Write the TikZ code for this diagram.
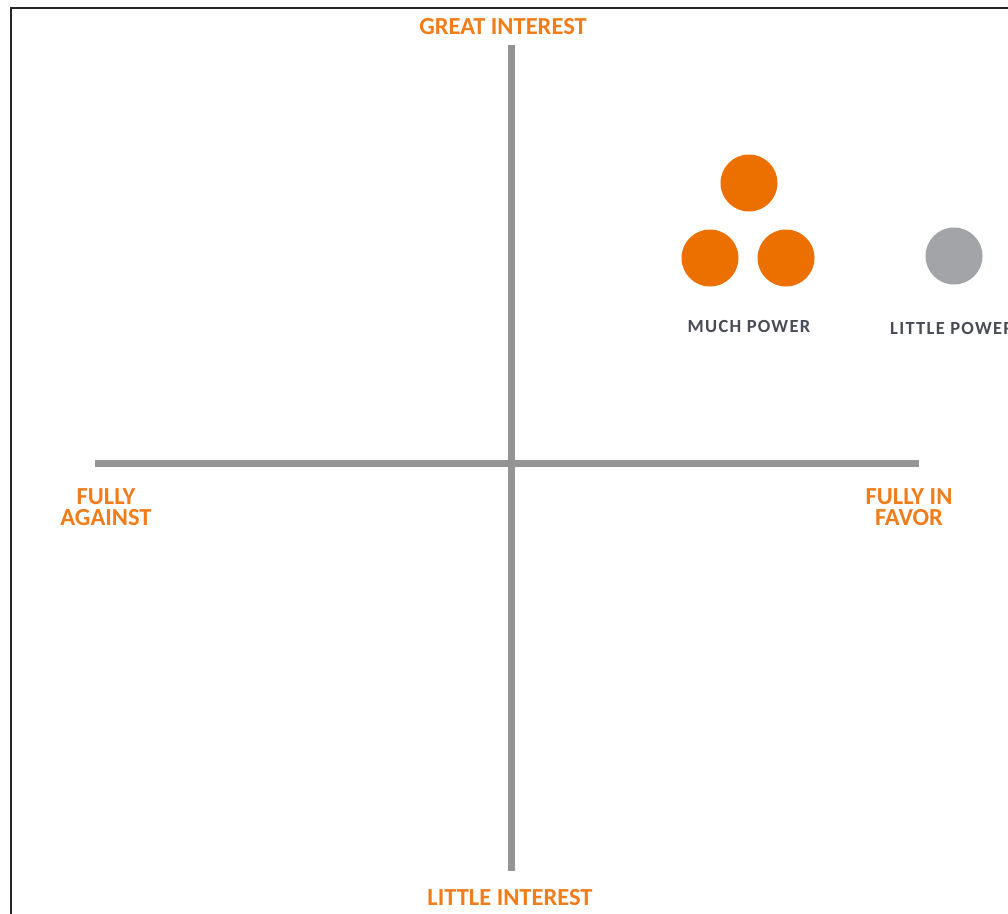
\documentclass[tikz,border=0pt]{standalone}
\usepackage{fontspec}
\setmainfont{Carlito}
\newfontfamily\smallspaced[LetterSpace=7]{Carlito}
\definecolor{axisgray}{HTML}{949494}
\definecolor{orangetext}{HTML}{F07D1A}
\definecolor{orangedot}{HTML}{EC7000}
\definecolor{graydot}{HTML}{A2A4A7}
\definecolor{darktext}{HTML}{4A4C55}
\tikzset{
  axis/.style={draw=axisgray, line width=7pt},
  axlabel/.style={text=orangetext, font=\fontsize{24.5}{20.5}\selectfont\bfseries, align=center, inner sep=0pt},
  dotlabel/.style={text=darktext, font=\smallspaced\fontsize{18.5}{18}\selectfont\bfseries, inner sep=0pt},
  odot/.style={circle, fill=orangedot, minimum size=57pt, inner sep=0pt},
  gdot/.style={circle, fill=graydot, minimum size=57pt, inner sep=0pt},
}
\begin{document}
\begin{tikzpicture}[x=1pt, y=-1pt]
\useasboundingbox (0,0) rectangle (1008,913);
\clip (0,0) rectangle (1008,913);
\fill[white] (0,0) rectangle (1008,913);
% frame
\draw[line width=2.5pt, black!85] (11,920) -- (11,8) -- (1015,8);
% axes
\coordinate (top) at (511,45);
\coordinate (bot) at (511,871);
\coordinate (left) at (95,463);
\coordinate (right) at (919,463);
\draw[axis] (top) -- (bot);
\draw[axis] (left) -- (right);
% labels
\node[axlabel] (gi) at (503,27) {GREAT INTEREST};
\node[axlabel] (li) at (510,898) {LITTLE INTEREST};
\node[axlabel] (fa) at (106,507) {FULLY\\AGAINST};
\node[axlabel] (ff) at (909,507) {FULLY IN\\FAVOR};
% dots
\node[odot] (o1) at (749,183) {};
\node[odot] (o2) at (710,258) {};
\node[odot] (o3) at (786,258) {};
\node[gdot] (g1) at (954,256) {};
\node[dotlabel] (mp) at (749,326) {MUCH POWER};
\node[dotlabel, anchor=west] (lp) at (890,328) {LITTLE POWER};
\end{tikzpicture}
\end{document}
